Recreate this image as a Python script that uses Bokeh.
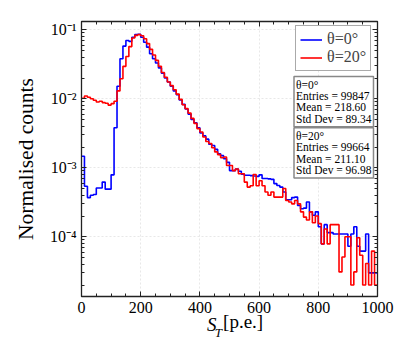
from bokeh.plotting import figure
from bokeh.models import (LogAxis, LinearAxis, LogTicker, SingleIntervalTicker, FixedTicker,
                          CustomJSTickFormatter, Label, Legend, LegendItem, Range1d)
from bokeh.embed import file_html
from bokeh.resources import INLINE

# ---------------- data ----------------
bin_width = 10
x_max = 1000
bin_left = list(range(0, x_max, bin_width))

counts_0deg = [
    1.47e-3, 5.4e-4, 3.7e-4, 4.0e-4, 4.1e-4, 5.1e-4, 5.1e-4, 6.2e-4, 4.9e-4, 4.9e-4,
    7.9e-4, 3.8e-3, 1.52e-2, 3.8e-2, 5.8e-2, 7.0e-2, 6.8e-2, 7.8e-2, 8.5e-2, 8.6e-2,
    7.8e-2, 6.6e-2, 5.6e-2, 4.5e-2, 3.8e-2, 3.3e-2, 2.8e-2, 2.35e-2, 2.0e-2, 1.75e-2,
    1.52e-2, 1.3e-2, 1.15e-2, 9.6e-3, 8.3e-3, 7.1e-3, 6.0e-3, 5.0e-3, 4.5e-3, 3.8e-3,
    3.2e-3, 2.9e-3, 2.6e-3, 2.2e-3, 2.1e-3, 1.85e-3, 1.6e-3, 1.5e-3, 1.35e-3, 1.2e-3,
    9.1e-4, 9.1e-4, 9.6e-4, 8.9e-4, 8.1e-4, 7.8e-4, 7.8e-4, 7.7e-4, 7.6e-4, 7.5e-4,
    7.9e-4, 7.0e-4, 7.0e-4, 6.9e-4, 6.8e-4, 5.9e-4, 5.55e-4, 5.25e-4, 4.45e-4, 3.45e-4,
    3.45e-4, 3.7e-4, 3.76e-4, 2.85e-4, 2.55e-4, 2.6e-4, 3.2e-4, 2.3e-4, 2.05e-4, 2.3e-4,
    1.4e-4, 7.9e-5, 1.5e-4, 1.15e-4, 1.15e-4, 1.1e-4, 1.1e-4, 1.1e-4, 1.1e-4, 1.1e-4,
    7.3e-5, 1.1e-4, 1.4e-4, 7.3e-5, 6.2e-5, 6.2e-5, 1.1e-4, 3.0e-5, 3.0e-5, 3.0e-5,
]

counts_20deg = [
    1.02e-2, 1.1e-2, 1.05e-2, 1.0e-2, 9.5e-3, 9.0e-3, 9.2e-3, 8.8e-3, 8.6e-3, 8.1e-3,
    8.5e-3, 9.2e-3, 1.3e-2, 1.95e-2, 2.95e-2, 4.1e-2, 5.7e-2, 7.6e-2, 8.3e-2, 8.5e-2,
    8.2e-2, 7.4e-2, 6.3e-2, 5.2e-2, 4.3e-2, 3.6e-2, 2.95e-2, 2.4e-2, 2.05e-2, 1.75e-2,
    1.55e-2, 1.35e-2, 1.17e-2, 9.8e-3, 8.2e-3, 7.2e-3, 6.2e-3, 5.2e-3, 4.4e-3, 3.7e-3,
    3.3e-3, 2.8e-3, 2.4e-3, 2.25e-3, 1.95e-3, 1.7e-3, 1.55e-3, 1.4e-3, 1.43e-3, 1.08e-3,
    1.08e-3, 9.1e-4, 9.6e-4, 8.2e-4, 8.2e-4, 6.2e-4, 5.25e-4, 5.5e-4, 8.0e-4, 5.5e-4,
    6.5e-4, 5.5e-4, 4.45e-4, 4.0e-4, 4.45e-4, 3.76e-4, 3.76e-4, 3.76e-4, 5.0e-4, 3.36e-4,
    3.2e-4, 3.0e-4, 3.36e-4, 3.0e-4, 2.3e-4, 1.93e-4, 1.75e-4, 2.3e-4, 1.6e-4, 2.0e-4,
    1.55e-4, 7.9e-5, 1.3e-4, 7.9e-5, 1.5e-4, 1.5e-4, 1.5e-4, 3.1e-5, 5.1e-5, 1.0e-4,
    1.0e-4, 2.0e-5, 3.1e-5, 9.7e-5, 5.4e-5, 2.0e-5, 4.1e-5, 2.0e-5, 6.2e-5, 2.0e-5,
]

series_labels = ["θ=0°", "θ=20°"]
entries = [99847, 99664]
means = [218.60, 211.10]
std_devs = [89.34, 96.98]

x_tick_interval = 200
y_min, y_max = 1.364e-5, 0.1318

# pieces of the x-axis title "S_T [p.e.]" (text, data-x of its centre)
xlabel_parts = [("S", 440), ("T", 462), ("[p.e.]", 546)]

# ---------------- figure ----------------
SERIF = "Liberation Serif"
W, H = 410, 358

p = figure(width=W, height=H,
           x_range=Range1d(0, x_max), y_range=Range1d(y_min, y_max),
           y_axis_type="log", output_backend="svg", toolbar_location=None,
           min_border_left=81, min_border_right=W - 377, min_border_top=21,
           min_border_bottom=H - 296)
p.background_fill_color = "white"
p.border_fill_color = "white"
p.outline_line_color = "#222222"
p.outline_line_width = 1.3

edges = bin_left + [x_max]
y0 = counts_0deg + [counts_0deg[-1]]
y1 = counts_20deg + [counts_20deg[-1]]

r0 = p.step(x=edges, y=y0, mode="after", line_color="#0000ff", line_width=1.6)
r1 = p.step(x=edges, y=y1, mode="after", line_color="#ff0000", line_width=1.6)

# ---- axes ----
xticker = SingleIntervalTicker(interval=x_tick_interval, num_minor_ticks=4)
yticker = LogTicker(mantissas=[1], num_minor_ticks=10)

sup_fmt = CustomJSTickFormatter(code="""
const e = Math.round(Math.log10(tick));
const m = {'-':'\u207b','0':'\u2070','1':'\u00b9','2':'\u00b2','3':'\u00b3','4':'\u2074',
           '5':'\u2075','6':'\u2076','7':'\u2077','8':'\u2078','9':'\u2079'};
return '10' + String(e).split('').map(c => m[c]).join('');
""")

def style_axis(ax, labels=True):
    ax.major_tick_in = 5
    ax.major_tick_out = 0
    ax.minor_tick_in = 3
    ax.minor_tick_out = 0
    ax.axis_line_color = "#222222"
    ax.major_tick_line_color = "#222222"
    ax.minor_tick_line_color = "#222222"
    if labels:
        ax.major_label_text_font = SERIF
        ax.major_label_text_font_size = "16px"
        ax.major_label_text_color = "black"
    else:
        ax.major_label_text_font_size = "0px"
        ax.major_label_text_color = None

xa = p.xaxis[0]
xa.ticker = xticker
style_axis(xa)
xa.major_label_standoff = 5

ya = p.yaxis[0]
ya.ticker = yticker
ya.formatter = sup_fmt
style_axis(ya)
ya.major_label_standoff = 5
ya.axis_label = "Normalised counts"
ya.axis_label_text_font = SERIF
ya.axis_label_text_font_size = "21.5px"
ya.axis_label_text_font_style = "normal"
ya.axis_label_text_color = "black"
ya.axis_label_standoff = 9

top_ax = LinearAxis(ticker=SingleIntervalTicker(interval=x_tick_interval, num_minor_ticks=4))
style_axis(top_ax, labels=False)
p.add_layout(top_ax, "above")
right_ax = LogAxis(ticker=LogTicker(mantissas=[1], num_minor_ticks=10))
style_axis(right_ax, labels=False)
p.add_layout(right_ax, "right")

p.xgrid.ticker = xticker
p.ygrid.ticker = yticker
for g in (p.xgrid[0], p.ygrid[0]):
    g.grid_line_color = "#dedede"
    g.grid_line_width = 0.7
    g.grid_line_dash = "2 2"

# ---- x-axis title built from label-only axes (mixed italic / subscript) ----
part_style = {"S": ("italic", "19px", -21), "T": ("italic", "13px", -13),
              "[p.e.]": ("normal", "19px", -5)}
for text, xpos in [xlabel_parts[2], xlabel_parts[0], xlabel_parts[1]]:
    style, size, standoff = part_style[text]
    ax = LinearAxis(ticker=FixedTicker(ticks=[xpos], minor_ticks=[]),
                    formatter=CustomJSTickFormatter(code="return %r;" % text))
    ax.axis_line_color = None
    ax.major_tick_line_color = None
    ax.minor_tick_line_color = None
    ax.major_tick_in = 0
    ax.major_tick_out = 0
    ax.minor_tick_in = 0
    ax.minor_tick_out = 0
    ax.major_label_standoff = standoff
    ax.major_label_text_font = SERIF
    ax.major_label_text_font_style = style
    ax.major_label_text_font_size = size
    ax.major_label_text_color = "black"
    p.add_layout(ax, "below")

# ---- legend ----
legend = Legend(items=[LegendItem(label=series_labels[0], renderers=[r0]),
                       LegendItem(label=series_labels[1], renderers=[r1])],
                location=(214, 225), padding=4, spacing=0,
                glyph_width=22, glyph_height=17, label_height=17, label_standoff=5,
                label_text_font=SERIF, label_text_font_size="16px",
                border_line_color="#555555", border_line_width=1,
                background_fill_color="white", background_fill_alpha=1.0)
p.add_layout(legend)

# ---- stats boxes ----
box_tops = [220, 168.7]
for i in range(2):
    txt = (f"{series_labels[i]}\nEntries = {entries[i]}\n"
           f"Mean = {means[i]:.2f}\nStd Dev = {std_devs[i]:.2f}")
    p.add_layout(Label(x=212.5, y=box_tops[i], x_units="screen", y_units="screen", text=txt,
                       text_font=SERIF, text_font_size="11.5px", text_line_height=0.95,
                       text_align="left", text_baseline="top", text_color="black",
                       background_fill_color="white", border_line_color="#888888",
                       border_line_width=1.5, padding=2))

open("out.html", "w").write(file_html(p, INLINE))
